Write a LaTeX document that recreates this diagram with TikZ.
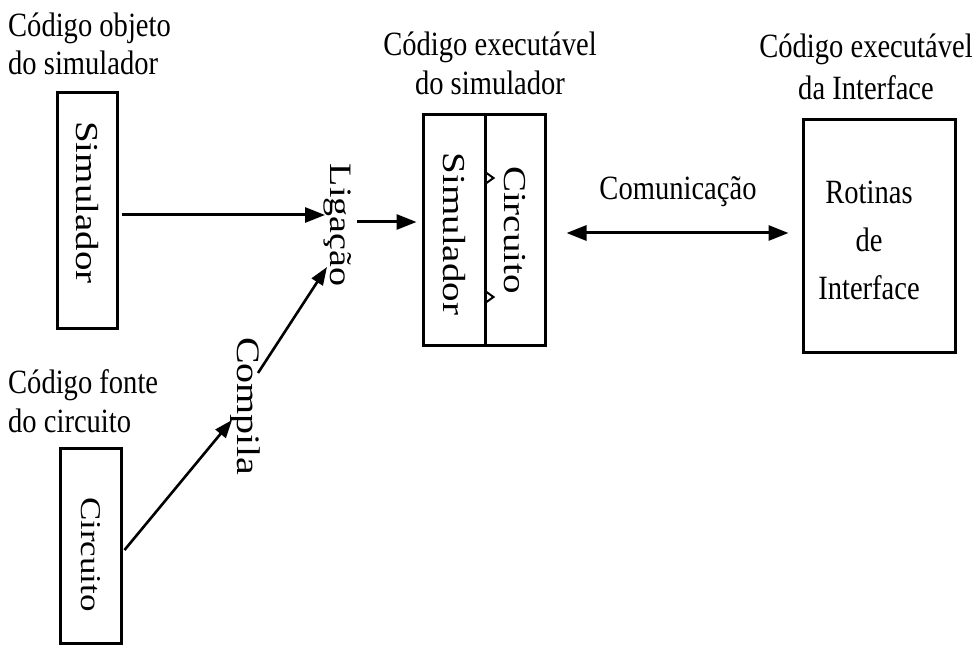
\documentclass[tikz,border=0pt]{standalone}
\usepackage{fontspec}
\setmainfont{Liberation Serif}[FakeStretch=0.84]
\newfontfamily\vfont{Liberation Serif}
\usetikzlibrary{arrows.meta,calc}

\begin{document}
\begin{tikzpicture}[x=1pt,y=-1pt,
  lbl/.style={font=\fontsize{34}{40}\selectfont, inner sep=0pt},
  vtext/.style={rotate=-90, inner sep=0pt, font=\vfont\fontsize{#1}{#1}\selectfont},
  vbox/.style={draw, line width=3pt, rotate=-90, inner sep=0pt,
               font=\vfont\fontsize{#1}{#1}\selectfont},
  hbox/.style={draw, line width=3pt, inner sep=0pt},
  arr/.style={line width=3pt, -{Triangle[length=20pt,width=15pt]}},
  thinarr/.style={line width=2.6pt, -{Triangle[length=18pt,width=13pt]}},
  notch/.style={line width=2pt, line join=miter}
  ]
\fill[white] (0,0) rectangle (972,647);
\useasboundingbox (0,0) rectangle (972,647);

% object code of the simulator (anchor on the baseline of the last line)
\node[lbl, anchor=base west, align=left] (objlbl) at (8,75)
  {Código objeto\\[-2pt]do simulador};
\node[vbox=39, minimum width=235pt, minimum height=60pt] (sim) at (87,210.5)
  {\scalebox{1}[0.82]{Simulador}\hspace*{16pt}};

% source code of the circuit
\node[lbl, anchor=base west, align=left] (srclbl) at (8,432)
  {Código fonte\\[-1pt]do circuito};
\node[vbox=35, minimum width=195pt, minimum height=61pt] (cir) at (90.5,545.5)
  {\hspace*{18pt}\scalebox{1}[0.82]{Circuito}};

% link and compile steps
\node[vtext=38] (lig) at (338,225) {\scalebox{1}[0.82]{Ligação}};
\node[vtext=40] (comp) at (245,406) {\scalebox{1}[0.82]{Compila}};

% executable of the simulator
\node[lbl, anchor=base, align=center] (execlbl) at (490,95)
  {Código executável\\[-1pt]do simulador};
\node[vbox=39, minimum width=230pt, minimum height=62pt] (simx) at (454,230)
  {\hspace*{8pt}\scalebox{1}[0.82]{Simulador}};
\node[vbox=39, minimum width=230pt, minimum height=60pt] (cirx) at (515,230)
  {\scalebox{1}[0.82]{Circuito}};
\draw[notch] ($(simx.north)+(0,-57)$) -- ++(7,5) -- ++(-7,5);
\draw[notch] ($(simx.north)+(0,62)$) -- ++(7,5) -- ++(-7,5);

% executable of the interface
\node[lbl, anchor=base, align=center] (iflbl) at (866,100)
  {Código executável\\[2pt]da Interface};
\node[hbox, minimum width=152pt, minimum height=232pt] (iface) at (879,236) {};
\node[lbl, align=center, font=\fontsize{34}{48}\selectfont] (ifacetext) at (869,240)
  {Rotinas\\de\\Interface};

% communication
\node[lbl, anchor=base] (comlbl) at (678,200) {Comunicação};

% connectors
\draw[arr] ($(sim.north)+(3,4.5)$) -- ($(lig.center)+(-13,-10)$);
\draw[arr] ($(lig.center)+(19,-3)$) -- ($(simx.south)+(-5,-8)$);
\draw[thinarr] ($(cir.north)+(2,4.5)$) -- ($(comp.center)+(-13,14)$);
\draw[thinarr] ($(comp.center)+(13,-33)$) -- ($(lig.center)+(-11,42)$);
\draw[line width=3pt, {Triangle[length=20pt,width=15pt]}-{Triangle[length=20pt,width=15pt]}]
  ($(cirx.north)+(20,3)$) -- ($(iface.west)+(-13,-3)$);
\end{tikzpicture}
\end{document}
